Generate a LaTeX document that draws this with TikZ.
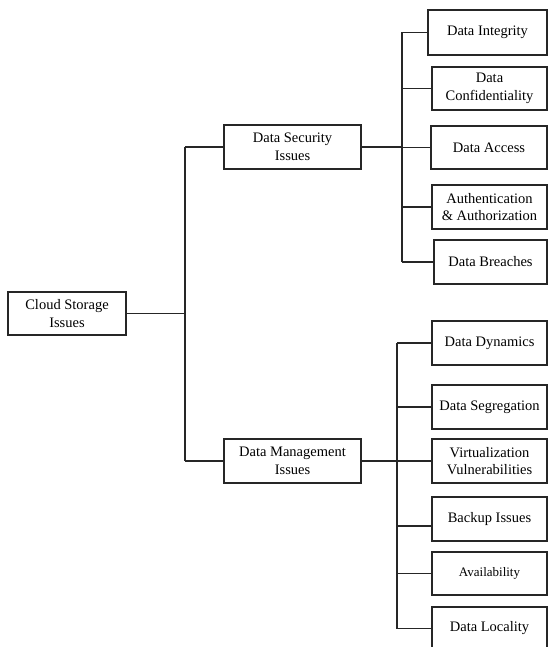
\documentclass[tikz,border=0pt]{standalone}
\usepackage{fontspec}
\setmainfont{Liberation Serif}
\begin{document}
\begin{tikzpicture}[x=1pt,y=-1pt,
  box/.style={draw=black!85, line width=1.2pt, fill=white, align=center, inner sep=1pt,
    font=\fontsize{14.5}{17.5}\selectfont},
  link/.style={draw=black!85, line width=1.1pt}]
\useasboundingbox (0,0) rectangle (548,647);
\clip (0,0) rectangle (548,647);

% root and the two main branches
\node[box, minimum width=118, minimum height=43] (root) at (67,313.5) {Cloud Storage\\Issues};
\node[box, minimum width=137, minimum height=44] (sec)  at (292.5,147) {Data Security\\Issues};
\node[box, minimum width=137, minimum height=44] (mgmt) at (292.5,461) {Data Management\\Issues};

% security issues
\node[box, minimum width=119, minimum height=45] (integ) at (487.5,32.5) {Data Integrity};
\node[box, minimum width=115, minimum height=43] (conf)  at (489.5,88.5) {Data\\Confidentiality};
\node[box, minimum width=116, minimum height=43] (acc)   at (489,147.5) {Data Access};
\node[box, minimum width=115, minimum height=44] (auth)  at (489.5,207) {Authentication\\\& Authorization};
\node[box, minimum width=113, minimum height=44] (breach) at (490.5,262) {Data Breaches};

% management issues
\node[box, minimum width=115, minimum height=44] (dyn)  at (489.5,343) {Data Dynamics};
\node[box, minimum width=115, minimum height=44] (seg)  at (489.5,407) {Data Segregation};
\node[box, minimum width=115, minimum height=44] (virt) at (489.5,461) {Virtualization\\Vulnerabilities};
\node[box, minimum width=115, minimum height=44] (bak) at (489.5,519) {Backup Issues};
\node[box, minimum width=115, minimum height=43, font=\fontsize{13}{15}\selectfont] (avail) at (489.5,573.5) {Availability};
\node[box, minimum width=115, minimum height=43] (loc) at (489.5,628.5) {Data Locality};

% bus lines
\coordinate (trunk) at (185,0);
\coordinate (busS) at (402,0);
\coordinate (busM) at (397,0);

\draw[link] (root.east) -- (root.east -| trunk);
\draw[link] (sec.west -| trunk) -- (mgmt.west -| trunk);
\draw[link] (sec.west -| trunk) -- (sec.west);
\draw[link] (mgmt.west -| trunk) -- (mgmt.west);

\draw[link] (sec.east) -- (sec.east -| busS);
\draw[link] (integ.west -| busS) -- (breach.west -| busS);
\foreach \n in {integ,conf,acc,auth,breach}
  \draw[link] (\n.west -| busS) -- (\n.west);

\draw[link] (mgmt.east) -- (mgmt.east -| busM);
\draw[link] (dyn.west -| busM) -- (loc.west -| busM);
\foreach \n in {dyn,seg,virt,avail,loc}
  \draw[link] (\n.west -| busM) -- (\n.west);
\draw[link] ([yshift=-7pt]bak.west -| busM) -- ([yshift=-7pt]bak.west);
\end{tikzpicture}
\end{document}
